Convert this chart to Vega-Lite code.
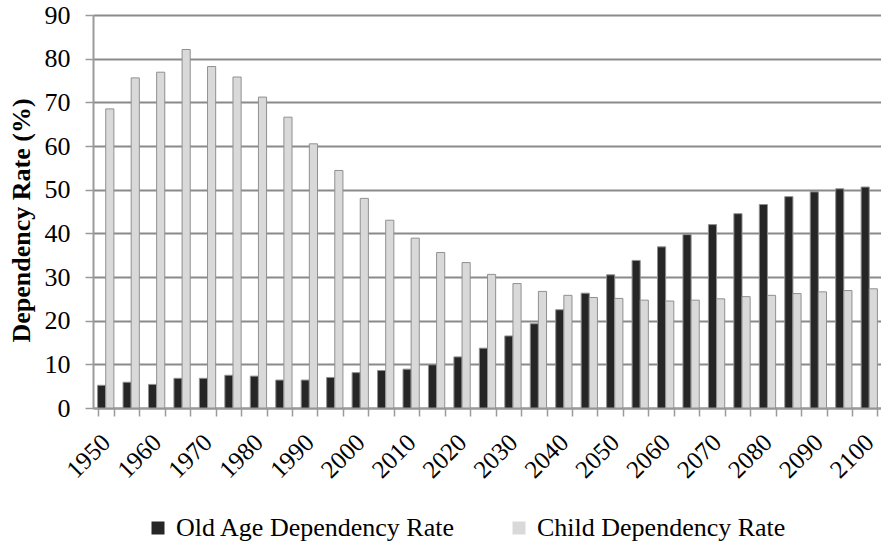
{
  "$schema": "https://vega.github.io/schema/vega-lite/v6.json",
  "autosize": "none",
  "width": 789,
  "height": 393,
  "padding": {"left": 93, "top": 15, "right": 0, "bottom": 137},
  "background": "white",
  "config": {
    "font": "Times New Roman, Liberation Serif, serif",
    "view": {"stroke": null},
    "axis": {"labelFont": "Times New Roman, Liberation Serif, serif", "titleFont": "Times New Roman, Liberation Serif, serif"},
    "legend": {"labelFont": "Times New Roman, Liberation Serif, serif", "titleFont": "Times New Roman, Liberation Serif, serif"}
  },
  "datasets": {
    "rates": [
      {"Year": 1950, "Series": "Old Age Dependency Rate", "Rate": 5.2},
      {"Year": 1955, "Series": "Old Age Dependency Rate", "Rate": 5.9},
      {"Year": 1960, "Series": "Old Age Dependency Rate", "Rate": 5.4},
      {"Year": 1965, "Series": "Old Age Dependency Rate", "Rate": 6.8},
      {"Year": 1970, "Series": "Old Age Dependency Rate", "Rate": 6.8},
      {"Year": 1975, "Series": "Old Age Dependency Rate", "Rate": 7.5},
      {"Year": 1980, "Series": "Old Age Dependency Rate", "Rate": 7.3},
      {"Year": 1985, "Series": "Old Age Dependency Rate", "Rate": 6.4},
      {"Year": 1990, "Series": "Old Age Dependency Rate", "Rate": 6.4},
      {"Year": 1995, "Series": "Old Age Dependency Rate", "Rate": 7.0},
      {"Year": 2000, "Series": "Old Age Dependency Rate", "Rate": 8.1},
      {"Year": 2005, "Series": "Old Age Dependency Rate", "Rate": 8.6},
      {"Year": 2010, "Series": "Old Age Dependency Rate", "Rate": 8.9},
      {"Year": 2015, "Series": "Old Age Dependency Rate", "Rate": 9.9},
      {"Year": 2020, "Series": "Old Age Dependency Rate", "Rate": 11.7},
      {"Year": 2025, "Series": "Old Age Dependency Rate", "Rate": 13.7},
      {"Year": 2030, "Series": "Old Age Dependency Rate", "Rate": 16.5},
      {"Year": 2035, "Series": "Old Age Dependency Rate", "Rate": 19.3},
      {"Year": 2040, "Series": "Old Age Dependency Rate", "Rate": 22.5},
      {"Year": 2045, "Series": "Old Age Dependency Rate", "Rate": 26.3},
      {"Year": 2050, "Series": "Old Age Dependency Rate", "Rate": 30.5},
      {"Year": 2055, "Series": "Old Age Dependency Rate", "Rate": 33.8},
      {"Year": 2060, "Series": "Old Age Dependency Rate", "Rate": 36.9},
      {"Year": 2065, "Series": "Old Age Dependency Rate", "Rate": 39.7},
      {"Year": 2070, "Series": "Old Age Dependency Rate", "Rate": 42.0},
      {"Year": 2075, "Series": "Old Age Dependency Rate", "Rate": 44.5},
      {"Year": 2080, "Series": "Old Age Dependency Rate", "Rate": 46.6},
      {"Year": 2085, "Series": "Old Age Dependency Rate", "Rate": 48.4},
      {"Year": 2090, "Series": "Old Age Dependency Rate", "Rate": 49.5},
      {"Year": 2095, "Series": "Old Age Dependency Rate", "Rate": 50.2},
      {"Year": 2100, "Series": "Old Age Dependency Rate", "Rate": 50.6},
      {"Year": 1950, "Series": "Child Dependency Rate", "Rate": 68.5},
      {"Year": 1955, "Series": "Child Dependency Rate", "Rate": 75.6},
      {"Year": 1960, "Series": "Child Dependency Rate", "Rate": 76.9},
      {"Year": 1965, "Series": "Child Dependency Rate", "Rate": 82.1},
      {"Year": 1970, "Series": "Child Dependency Rate", "Rate": 78.2},
      {"Year": 1975, "Series": "Child Dependency Rate", "Rate": 75.8},
      {"Year": 1980, "Series": "Child Dependency Rate", "Rate": 71.2},
      {"Year": 1985, "Series": "Child Dependency Rate", "Rate": 66.6},
      {"Year": 1990, "Series": "Child Dependency Rate", "Rate": 60.5},
      {"Year": 1995, "Series": "Child Dependency Rate", "Rate": 54.4},
      {"Year": 2000, "Series": "Child Dependency Rate", "Rate": 48.0},
      {"Year": 2005, "Series": "Child Dependency Rate", "Rate": 43.0},
      {"Year": 2010, "Series": "Child Dependency Rate", "Rate": 38.9},
      {"Year": 2015, "Series": "Child Dependency Rate", "Rate": 35.6},
      {"Year": 2020, "Series": "Child Dependency Rate", "Rate": 33.3},
      {"Year": 2025, "Series": "Child Dependency Rate", "Rate": 30.6},
      {"Year": 2030, "Series": "Child Dependency Rate", "Rate": 28.5},
      {"Year": 2035, "Series": "Child Dependency Rate", "Rate": 26.7},
      {"Year": 2040, "Series": "Child Dependency Rate", "Rate": 25.8},
      {"Year": 2045, "Series": "Child Dependency Rate", "Rate": 25.3},
      {"Year": 2050, "Series": "Child Dependency Rate", "Rate": 25.1},
      {"Year": 2055, "Series": "Child Dependency Rate", "Rate": 24.7},
      {"Year": 2060, "Series": "Child Dependency Rate", "Rate": 24.5},
      {"Year": 2065, "Series": "Child Dependency Rate", "Rate": 24.7},
      {"Year": 2070, "Series": "Child Dependency Rate", "Rate": 25.0},
      {"Year": 2075, "Series": "Child Dependency Rate", "Rate": 25.5},
      {"Year": 2080, "Series": "Child Dependency Rate", "Rate": 25.8},
      {"Year": 2085, "Series": "Child Dependency Rate", "Rate": 26.2},
      {"Year": 2090, "Series": "Child Dependency Rate", "Rate": 26.6},
      {"Year": 2095, "Series": "Child Dependency Rate", "Rate": 26.9},
      {"Year": 2100, "Series": "Child Dependency Rate", "Rate": 27.3}
    ]
  },
  "data": {"name": "rates"},
  "mark": {"type": "bar", "stroke": "#909090", "strokeWidth": 1},
  "encoding": {
    "x": {
      "field": "Year",
      "type": "ordinal",
      "scale": {"paddingInner": 0.36, "paddingOuter": 0.18},
      "axis": {
        "title": null,
        "labelExpr": "datum.value % 10 == 0 ? datum.label : ''",
        "labelAngle": -45,
        "labelAlign": "right",
        "labelBaseline": "middle",
        "labelFontSize": 25,
        "labelColor": "black",
        "labelPadding": 22,
        "labelOverlap": false,
        "labelBound": false,
        "labelFlush": false,
        "labelLimit": 300,
        "tickBand": "extent",
        "tickSize": 8,
        "tickColor": "#9a9a9a",
        "tickWidth": 1.5,
        "domainColor": "#9a9a9a",
        "domainWidth": 2,
        "grid": false
      }
    },
    "xOffset": {
      "field": "Series",
      "type": "nominal",
      "sort": ["Old Age Dependency Rate", "Child Dependency Rate"],
      "scale": {"paddingInner": 0}
    },
    "y": {
      "field": "Rate",
      "type": "quantitative",
      "scale": {"domain": [0, 90], "nice": false},
      "axis": {
        "title": "Dependency Rate (%)",
        "titleFontSize": 26,
        "titleFontWeight": "bold",
        "titleColor": "black",
        "titlePadding": 10,
        "titleY": 205,
        "values": [0, 10, 20, 30, 40, 50, 60, 70, 80, 90],
        "labelFontSize": 26,
        "labelColor": "black",
        "labelPadding": 15,
        "tickSize": 8,
        "tickColor": "#9a9a9a",
        "tickWidth": 1.5,
        "domainColor": "#9a9a9a",
        "domainWidth": 2,
        "grid": true,
        "gridColor": "#8a8a8a",
        "gridWidth": 2
      }
    },
    "color": {
      "field": "Series",
      "type": "nominal",
      "scale": {
        "domain": ["Old Age Dependency Rate", "Child Dependency Rate"],
        "range": ["#262626", "#d9d9d9"]
      },
      "legend": {
        "title": null,
        "orient": "none",
        "direction": "horizontal",
        "legendX": 52,
        "legendY": 500,
        "padding": 0,
        "symbolType": "square",
        "symbolSize": 169,
        "symbolStrokeWidth": 0,
        "labelFontSize": 26,
        "labelColor": "black",
        "labelOffset": 5,
        "labelLimit": 500,
        "columnPadding": 50
      }
    }
  }
}
